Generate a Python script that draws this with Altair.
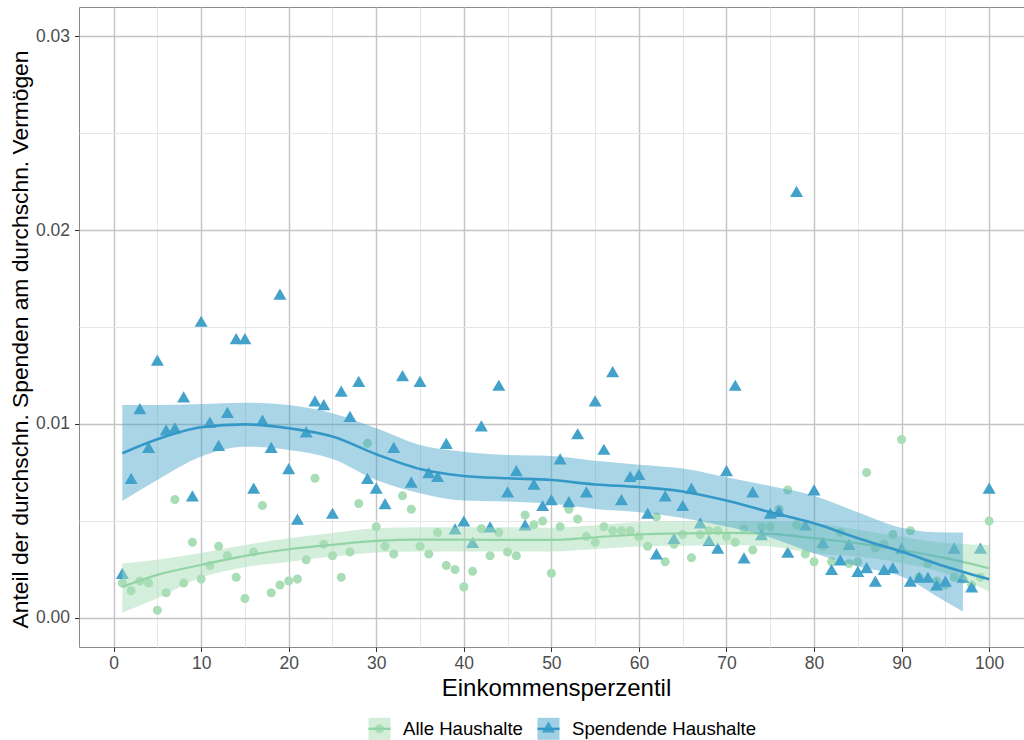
import altair as alt
import pandas as pd

GROUPS = ["Alle Haushalte", "Spendende Haushalte"]
POINT_COLORS = ["#A8DDB5", "#43A2CA"]
LINE_COLORS = ["#93D4A6", "#3398C6"]

percentile = list(range(1, 101))

alle = [
    0.0018, 0.0014, 0.0019, 0.0018, 0.0004, 0.0013, 0.0061, 0.0018, 0.0039, 0.0020,
    0.0027, 0.0037, 0.0032, 0.0021, 0.0010, 0.0034, 0.0058, 0.0013, 0.0017, 0.0019,
    0.0020, 0.0030, 0.0072, 0.0038, 0.0032, 0.0021, 0.0034, 0.0059, 0.0090, 0.0047,
    0.0037, 0.0033, 0.0063, 0.0056, 0.0037, 0.0033, 0.0044, 0.0027, 0.0025, 0.0016,
    0.0024, 0.0046, 0.0032, 0.0044, 0.0034, 0.0032, 0.0053, 0.0048, 0.0050, 0.0023,
    0.0047, 0.0056, 0.0051, 0.0042, 0.0039, 0.0047, 0.0045, 0.0045, 0.0045, 0.0042,
    0.0037, 0.0052, 0.0029, 0.0038, 0.0043, 0.0031, 0.0043, 0.0045, 0.0045, 0.0042,
    0.0039, 0.0046, 0.0035, 0.0047, 0.0047, 0.0056, 0.0066, 0.0048, 0.0033, 0.0029,
    0.0037, 0.0029, 0.0044, 0.0028, 0.0029, 0.0075, 0.0036, 0.0038, 0.0043, 0.0092,
    0.0045, 0.0021, 0.0028, 0.0019, 0.0017, 0.0021, 0.0020, 0.0017, 0.0021, 0.0050,
]

spendende = [
    0.0022, 0.0071, 0.0107, 0.0087, 0.0132, 0.0096, 0.0097, 0.0113, 0.0062, 0.0152,
    0.0100, 0.0088, 0.0105, 0.0143, 0.0143, 0.0066, 0.0101, 0.0087, 0.0166, 0.0076,
    0.0050, 0.0095, 0.0111, 0.0109, 0.0053, 0.0116, 0.0103, 0.0121, 0.0071, 0.0066,
    0.0058, 0.0087, 0.0124, 0.0069, 0.0121, 0.0074, 0.0072, 0.0089, 0.0045, 0.0049,
    0.0038, 0.0098, 0.0046, 0.0119, 0.0064, 0.0075, 0.0047, 0.0068, 0.0057, 0.0060,
    0.0081, 0.0059, 0.0094, 0.0064, 0.0111, 0.0086, 0.0126, 0.0060, 0.0072, 0.0073,
    0.0053, 0.0032, 0.0062, 0.0040, 0.0057, 0.0066, 0.0048, 0.0039, 0.0035, 0.0075,
    0.0119, 0.0030, 0.0064, 0.0042, 0.0053, 0.0054, 0.0033, 0.0219, 0.0047, 0.0065,
    0.0038, 0.0024, 0.0029, 0.0037, 0.0023, 0.0025, 0.0018, 0.0024, 0.0025, 0.0035,
    0.0018, 0.0020, 0.0020, 0.0016, 0.0018, 0.0035, 0.0020, 0.0015, 0.0035, 0.0066,
]

# smoothed trend with confidence band
smooth_x = [1, 5, 10, 15, 20, 25, 30, 35, 40, 45, 50, 55, 60, 65, 70, 75, 80, 85, 90, 95, 100]
alle_fit = [0.00160, 0.00222, 0.00273, 0.00320, 0.00354, 0.00377, 0.00397, 0.00404, 0.00403, 0.00402,
            0.00402, 0.00416, 0.00430, 0.00436, 0.00438, 0.00433, 0.00411, 0.00385, 0.00350, 0.00308, 0.00256]
alle_lo = [0.00027, 0.00101, 0.00208, 0.00261, 0.00290, 0.00316, 0.00337, 0.00342, 0.00342, 0.00342,
           0.00342, 0.00355, 0.00368, 0.00372, 0.00376, 0.00368, 0.00333, 0.00316, 0.00282, 0.00230, 0.00136]
alle_hi = [0.00280, 0.00300, 0.00335, 0.00376, 0.00411, 0.00438, 0.00462, 0.00467, 0.00467, 0.00467,
           0.00465, 0.00478, 0.00494, 0.00498, 0.00500, 0.00498, 0.00489, 0.00454, 0.00418, 0.00386, 0.00376]

sp_fit = [0.00849, 0.00921, 0.00983, 0.00998, 0.00978, 0.00935, 0.00844, 0.00768, 0.00732, 0.00720,
          0.00711, 0.00688, 0.00675, 0.00652, 0.00605, 0.00545, 0.00488, 0.00411, 0.00342, 0.00265, 0.00199]
sp_band_x = [1, 5, 10, 15, 20, 25, 30, 35, 40, 45, 50, 55, 60, 65, 70, 75, 80, 85, 90, 95, 97]
sp_lo = [0.00603, 0.00711, 0.00832, 0.00883, 0.00866, 0.00820, 0.00711, 0.00643, 0.00605, 0.00600,
         0.00588, 0.00562, 0.00545, 0.00515, 0.00471, 0.00415, 0.00333, 0.00265, 0.00213, 0.00084, 0.00033]
sp_hi = [0.01098, 0.01098, 0.01103, 0.01110, 0.01098, 0.01055, 0.00978, 0.00892, 0.00857, 0.00840,
         0.00835, 0.00810, 0.00790, 0.00770, 0.00725, 0.00680, 0.00630, 0.00545, 0.00465, 0.00440, 0.00440]

points = pd.DataFrame({
    "pct": percentile * 2,
    "val": alle + spendende,
    "grp": [GROUPS[0]] * len(alle) + [GROUPS[1]] * len(spendende),
})
alle_smooth = pd.DataFrame({"pct": smooth_x, "fit": alle_fit, "lo": alle_lo, "hi": alle_hi,
                            "grp": GROUPS[0]})
sp_smooth = pd.DataFrame({"pct": smooth_x, "fit": sp_fit, "grp": GROUPS[1]})
sp_band = pd.DataFrame({"pct": sp_band_x, "lo": sp_lo, "hi": sp_hi, "grp": GROUPS[1]})

FONT = "Liberation Sans"

# symbol paths in a [-1,1] box; the extra moves keep the full box as bounds
CIRCLE = "M-1,-1M0.41,0A0.41,0.41,0,1,1,-0.41,0A0.41,0.41,0,1,1,0.41,0ZM1,1"
TRIANGLE = "M-1,-1M0,-0.68L0.59,0.34L-0.59,0.34ZM1,1"
KEYLINE = "M-1,-1M-1,0L1,0M1,1"

xscale = alt.Scale(domain=[-3.95, 103.98], nice=False, zero=False)
yscale = alt.Scale(domain=[-0.0015, 0.0315], nice=False, zero=False)

MAJ_Y = "abs(datum.value*100 - round(datum.value*100)) < 0.000001"
x_axis = alt.Axis(
    title="Einkommensperzentil",
    values=list(range(0, 101, 5)),
    labelExpr="datum.value % 10 == 0 ? datum.label : ''",
    gridColor={"condition": {"test": "datum.value % 10 == 0", "value": "#C4C4C4"}, "value": "#E6E6E6"},
    gridWidth={"condition": {"test": "datum.value % 10 == 0", "value": 1.4}, "value": 1.0},
    tickColor={"condition": {"test": "datum.value % 10 == 0", "value": "#333333"}, "value": "transparent"},
    titleFontSize=24, titleX=477,
)
y_axis = alt.Axis(
    title="Anteil der durchschn. Spenden am durchschn. Vermögen",
    values=[0, 0.005, 0.01, 0.015, 0.02, 0.025, 0.03],
    labelExpr=MAJ_Y + " ? format(datum.value, '.2f') : ''",
    gridColor={"condition": {"test": MAJ_Y, "value": "#C4C4C4"}, "value": "#E6E6E6"},
    gridWidth={"condition": {"test": MAJ_Y, "value": 1.4}, "value": 1.0},
    tickColor={"condition": {"test": MAJ_Y, "value": "#333333"}, "value": "transparent"},
    titleFontSize=22.8, titleY=332,
)

LEG_X, LEG_Y = 288, 709
common_leg = dict(title=None, orient="none", direction="horizontal", legendX=LEG_X, legendY=LEG_Y,
                  symbolSize=484, symbolStrokeWidth=2.4, labelFont=FONT, labelFontSize=18.6,
                  labelOffset=11, columnPadding=9, padding=0, labelLimit=0)

pts = alt.Chart(points).mark_point(filled=True, opacity=1, size=484).encode(
    x=alt.X("pct:Q", scale=xscale, axis=x_axis),
    y=alt.Y("val:Q", scale=yscale, axis=y_axis),
    fill=alt.Fill("grp:N", scale=alt.Scale(range=POINT_COLORS),
                  legend=alt.Legend(labelColor="transparent", symbolStrokeColor="transparent",
                                    symbolOpacity=1, zindex=2, **common_leg)),
    shape=alt.Shape("grp:N", scale=alt.Scale(range=[CIRCLE, TRIANGLE]),
                    legend=alt.Legend(labelColor="transparent", symbolStrokeColor="transparent",
                                      symbolOpacity=1, zindex=2, **common_leg)),
)

band_color = alt.Color("grp:N", scale=alt.Scale(domain=GROUPS, range=POINT_COLORS),
                       legend=alt.Legend(labelColor="#000000", symbolType="square",
                                         symbolStrokeColor="transparent", symbolOpacity=0.5,
                                         zindex=1, **common_leg))
line_stroke = alt.Stroke("grp:N", scale=alt.Scale(range=LINE_COLORS),
                         legend=alt.Legend(labelColor="transparent", symbolType=KEYLINE,
                                           symbolFillColor="transparent", symbolOpacity=1,
                                           zindex=3, **common_leg))

alle_band = alt.Chart(alle_smooth).mark_area(opacity=0.5, interpolate="monotone").encode(
    x="pct:Q", y="lo:Q", y2="hi:Q", color=band_color)
alle_line = alt.Chart(alle_smooth).mark_line(strokeWidth=2.2, interpolate="monotone").encode(
    x="pct:Q", y="fit:Q", stroke=line_stroke)
sp_band_l = alt.Chart(sp_band).mark_area(opacity=0.45, interpolate="monotone").encode(
    x="pct:Q", y="lo:Q", y2="hi:Q", color=band_color)
sp_line = alt.Chart(sp_smooth).mark_line(strokeWidth=2.6, interpolate="monotone").encode(
    x="pct:Q", y="fit:Q", stroke=line_stroke)

chart = alt.layer(pts, alle_band, alle_line, sp_band_l, sp_line).properties(
    width=945, height=640,
    padding={"left": 9, "top": 7, "right": 0, "bottom": 0},
).configure_view(
    stroke="#8A8A8A", strokeWidth=1,
).configure_axis(
    domain=False, labelFont=FONT, titleFont=FONT, labelFontSize=17.5, titleFontSize=23,
    labelColor="#4D4D4D", titleColor="#000000", titleFontWeight="normal", tickSize=4.5,
    labelPadding=3, titlePadding=4,
).configure_axisY(
    labelPadding=5, titlePadding=3,
)

chart.save("out.html", embed_options={"renderer": "svg", "actions": False})
